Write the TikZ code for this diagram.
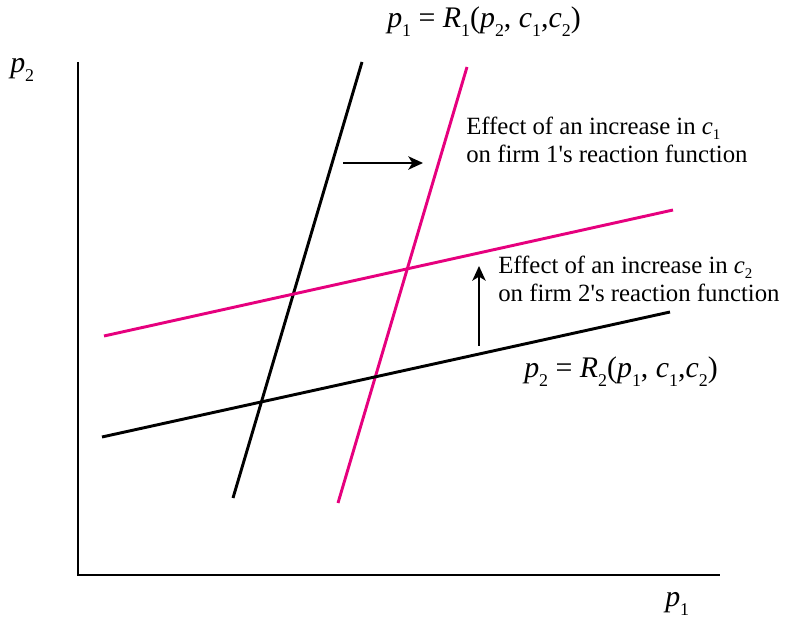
\documentclass[tikz,border=0pt]{standalone}
\usepackage{fontspec}
\setmainfont{Liberation Serif}[Ligatures=TeXOff]
\usetikzlibrary{arrows.meta}
\definecolor{mag}{RGB}{230,0,126}
\newcommand\vi[1]{\textit{#1}}
\newcommand\sbx[1]{\raisebox{-0.3em}{\fontsize{0.6em}{0.6em}\selectfont #1}}
\newcommand\sbn[1]{\raisebox{-0.2em}{\fontsize{0.6em}{0.6em}\selectfont #1}}
\begin{document}
\begin{tikzpicture}[x=0.75pt,y=-0.75pt,
  curve/.style={line width=2.2pt},
  axis/.style={line width=1.8pt},
  shiftarrow/.style={line width=1.6pt,-{Stealth[length=11pt,width=10pt,inset=3pt]}},
  lbl/.style={inner sep=0pt,anchor=base west,font=\fontsize{22.4}{24}\selectfont},
  note/.style={inner sep=0pt,align=left,anchor=base west,font=\fontsize{18.6}{21}\selectfont}]
\useasboundingbox (0,0) rectangle (786,623);
% axes
\coordinate (o) at (78,575);
\coordinate (ytop) at (78,62);
\coordinate (xend) at (720,575);
\draw[axis] (ytop) -- (o) -- (xend);
% reaction functions
\coordinate (b1a) at (233,498); \coordinate (b1b) at (362,62);
\coordinate (m1a) at (338,503); \coordinate (m1b) at (467,67);
\coordinate (m2a) at (104,336); \coordinate (m2b) at (673,210);
\coordinate (b2a) at (102,437); \coordinate (b2b) at (670,312);
\draw[curve] (b1a) -- (b1b);
\draw[curve,mag] (m1a) -- (m1b);
\draw[curve,mag] (m2a) -- (m2b);
\draw[curve] (b2a) -- (b2b);
% shift arrows
\coordinate (ar1) at (343,163); \coordinate (ar2) at (423,163);
\coordinate (au1) at (479,346); \coordinate (au2) at (479,266);
\draw[shiftarrow] (ar1) -- (ar2);
\draw[shiftarrow] (au1) -- (au2);
% labels
\node[lbl] (r1) at (387,28) {\vi{p}\sbx{1} = \vi{R}\sbx{1}(\vi{p}\sbx{2}, \vi{c}\sbx{1},\vi{c}\sbx{2})};
\node[lbl] (r2) at (524,378) {\vi{p}\sbx{2} = \vi{R}\sbx{2}(\vi{p}\sbx{1}, \vi{c}\sbx{1},\vi{c}\sbx{2})};
\node[lbl] (yl) at (10,73) {\vi{p}\sbx{2}};
\node[lbl] (xl) at (665,607) {\vi{p}\sbx{1}};
\node[note] (n1) at (466,163) {Effect of an increase in \vi{c}\sbn{1}\\on firm 1's reaction function};
\node[note] (n2) at (498,302) {Effect of an increase in \vi{c}\sbn{2}\\on firm 2's reaction function};
\end{tikzpicture}
\end{document}
